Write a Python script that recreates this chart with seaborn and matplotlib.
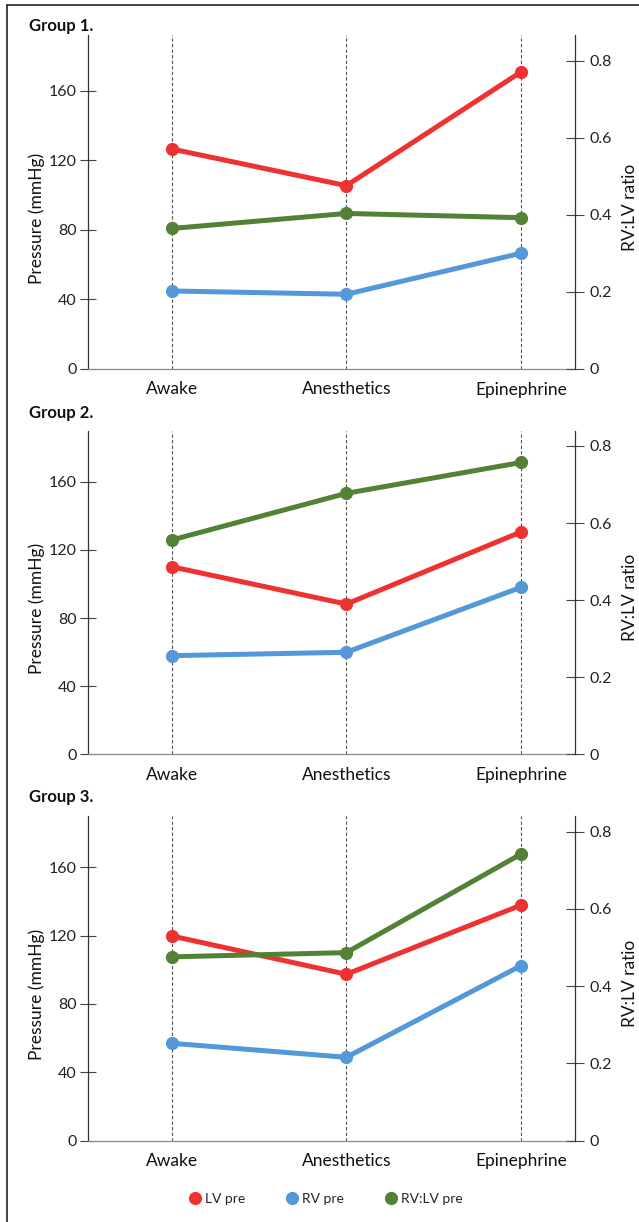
import matplotlib
matplotlib.use("Agg")
import matplotlib.pyplot as plt
import seaborn as sns
import numpy as np
import pandas as pd
from matplotlib.lines import Line2D

sns.set_theme(style="white")
plt.rcParams['font.family'] = ['Lato', 'DejaVu Sans']

# ---- data ----
conditions = ["Awake", "Anesthetics", "Epinephrine"]
groups = ["Group 1.", "Group 2.", "Group 3."]
lv_pre = [[126.6, 105.5, 170.9],
          [110.1, 88.2, 130.5],
          [119.8, 97.4, 137.8]]
rv_pre = [[44.9, 43.0, 66.6],
          [57.9, 59.9, 98.0],
          [57.0, 48.8, 102.4]]
ratio_pre = [[0.365, 0.404, 0.393],
             [0.556, 0.677, 0.757],
             [0.476, 0.487, 0.742]]
left_ticks = [0, 40, 80, 120, 160]
right_ticks = [0, 0.2, 0.4, 0.6, 0.8]
right_ticklabels = ["0", "0.2", "0.4", "0.6", "0.8"]
series_names = ["LV pre", "RV pre", "RV:LV pre"]

# ---- style ----
RED = "#EE3232"
BLUE = "#5398D8"
GREEN = "#538135"
W, H = 639, 1222
fig = plt.figure(figsize=(W / 100, H / 100), dpi=100)

# axes boxes in pixel coordinates: (top, bottom)
boxes = [(35, 369), (431, 754.3), (816, 1140.7)]
left_lims = [192.2, 189.8, 190.0]
right_lims = [0.8675, 0.8387, 0.8407]
title_y = [26, 413, 797]
x_left_px, x_right_px = 88, 575
xpos = np.arange(len(conditions))

for i in range(3):
    top, bot = boxes[i]
    ax = fig.add_axes([x_left_px / W, 1 - bot / H, (x_right_px - x_left_px) / W, (bot - top) / H])
    ax2 = ax.twinx()
    df = pd.DataFrame({"x": xpos, "LV": lv_pre[i], "RV": rv_pre[i], "R": ratio_pre[i]})

    ax.set_xlim(-0.48, 2.31)
    ax.set_ylim(0, left_lims[i])
    ax2.set_ylim(0, right_lims[i])

    for xp in xpos:
        ax.axvline(xp, color="#555555", lw=0.8, ls=(0, (3, 2)), zorder=0)

    sns.lineplot(data=df, x="x", y="LV", ax=ax, color=RED, lw=3.6, marker="o",
                 markersize=9.5, markeredgewidth=0, zorder=3)
    sns.lineplot(data=df, x="x", y="RV", ax=ax, color=BLUE, lw=3.6, marker="o",
                 markersize=9.5, markeredgewidth=0, zorder=3)
    sns.lineplot(data=df, x="x", y="R", ax=ax2, color=GREEN, lw=3.6, marker="o",
                 markersize=9.5, markeredgewidth=0, zorder=3)

    ax.set_xticks(xpos)
    ax.set_xticklabels(conditions, fontsize=12.5, color="#111111")
    ax.tick_params(axis="x", length=0, pad=9)
    ax.set_yticks(left_ticks)
    ax.set_yticklabels([str(t) for t in left_ticks], fontsize=11.5, color="#222222")
    ax.tick_params(axis="y", direction="inout", length=12, width=0.8, color="#444444", pad=2)
    ax2.set_yticks(right_ticks)
    ax2.set_yticklabels(right_ticklabels, fontsize=11.5, color="#222222")
    ax2.tick_params(axis="y", direction="inout", length=13, width=0.8, color="#444444", pad=4)

    for a in (ax, ax2):
        a.spines["top"].set_visible(False)
        a.spines["left"].set_color("#333333")
        a.spines["right"].set_color("#333333")
        a.spines["bottom"].set_color("#8c8c8c")
        for s in a.spines.values():
            s.set_linewidth(0.9)
    ax.spines["right"].set_visible(False)
    ax2.spines["left"].set_visible(False)
    ax2.spines["bottom"].set_visible(False)

    ax.set_xlabel("")
    ax.set_ylabel("Pressure (mmHg)", fontsize=12.5, color="#111111")
    ax.yaxis.set_label_coords(-0.088, 0.45)
    ax2.set_ylabel("RV:LV ratio", fontsize=12.5, color="#111111")
    ax2.yaxis.set_label_coords(1.097, 0.485)

    fig.text(29 / W, 1 - title_y[i] / H, groups[i], fontsize=12, fontweight="bold",
             ha="left", va="center", color="#111111")

# legend
handles = [Line2D([], [], ls="none", marker="o", markersize=9.5, markeredgewidth=0, color=c)
           for c in (RED, BLUE, GREEN)]
fig.legend(handles, series_names, loc="center", bbox_to_anchor=(326 / W, 1 - 1199 / H),
           ncol=3, frameon=False, fontsize=10, handlelength=0.8, handletextpad=0.3,
           columnspacing=3.0)

# outer frame (left and top)
fig.add_artist(Line2D([7 / W, 7 / W], [0, 1 - 5 / H], color="#222222", lw=1.2, transform=fig.transFigure))
fig.add_artist(Line2D([7 / W, 1], [1 - 5 / H, 1 - 5 / H], color="#222222", lw=1.2, transform=fig.transFigure))

fig.savefig("out.png", dpi=100)
